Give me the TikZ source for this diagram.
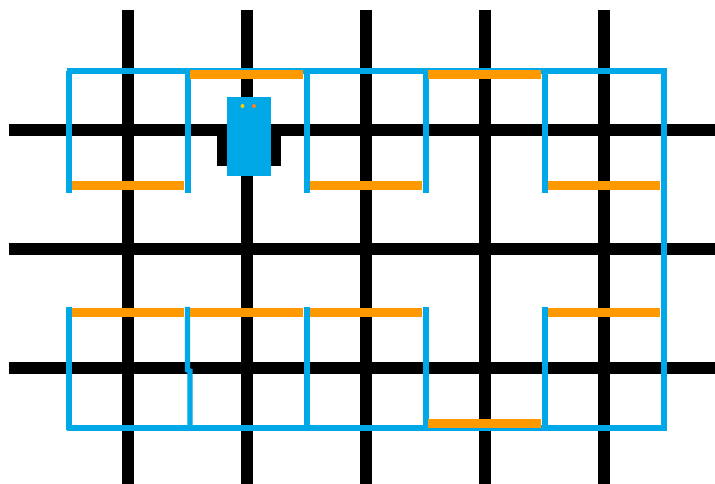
\documentclass[tikz,border=0pt]{standalone}
\definecolor{wallblue}{HTML}{00A8E8}
\definecolor{doororange}{HTML}{FF9900}
\definecolor{dotyellow}{HTML}{FFC90E}
\definecolor{dotorange}{HTML}{FF7F27}
\tikzset{
  gridline/.style={black,line width=9pt},
  wall/.style={wallblue,line width=3.9pt},
  door/.style={doororange,line width=7pt},
}
\begin{document}
\begin{tikzpicture}[x=0.75pt,y=-0.75pt]
\useasboundingbox (0,0) rectangle (715,484);
% grid
\foreach \x in {127.5,246.5,365.5,484.5,603.5} \draw[gridline] (\x,10) -- (\x,484);
\foreach \y in {130,249,368} \draw[gridline] (8.5,\y) -- (715,\y);
% walls
\draw[wall] (66.5,71) -- (666.5,71);
\draw[wall] (66.5,428) -- (666.5,428);
\draw[wall] (664,68.5) -- (664,430.5);
\foreach \x in {69,188,307,426,545} \draw[wall] (\x,71) -- (\x,193);
\foreach \x in {69,307,426,545} \draw[wall] (\x,307) -- (\x,430);
\draw[wall] (187.5,307) -- (187.5,370) -- (190,371) -- (190,428);
% doors
\foreach \a/\b/\y in {190/303/74.5, 428/541/74.5,
  72/184/185.5, 310/422/185.5, 548/660/185.5,
  72/184/312.5, 190/303/312.5, 310/422/312.5, 548/660/312.5,
  428/541/423.5}
  \draw[door] (\a,\y) -- (\b,\y);
% robot
\fill[black] (217,136) rectangle (281,166);
\fill[wallblue] (227,97) rectangle (270.5,176);
\fill[dotyellow] (242.5,106) circle[radius=1.5pt];
\fill[dotorange] (254,106) circle[radius=1.5pt];
\end{tikzpicture}
\end{document}
